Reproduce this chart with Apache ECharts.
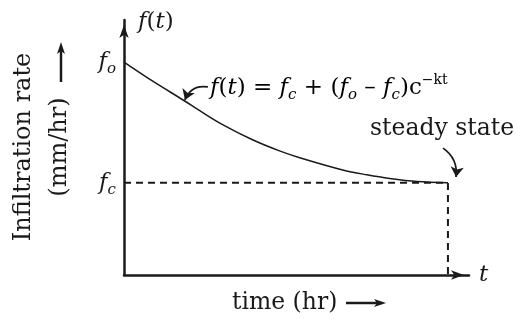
<!DOCTYPE html>
<html>
<head>
<meta charset="utf-8">
<script src="https://cdn.jsdelivr.net/npm/echarts@6/dist/echarts.min.js"></script>
<style>
  html, body { margin: 0; padding: 0; background: #fff; }
  #chart { width: 516px; height: 322px; }
</style>
</head>
<body>
<div id="chart"></div>
<script>
// Horton infiltration curve: rate falls from the initial rate f_o to the steady rate f_c
const timeHr = [0, 0.9, 1.85, 2.35, 3.0, 3.95, 4.8, 5.45, 6.75, 7.5, 8.2, 9.05, 10];
const rateMmHr = [6.93, 6.30, 5.68, 5.34, 4.92, 4.41, 4.04, 3.81, 3.42, 3.26, 3.14, 3.04, 3.0];
const initialRate = 6.93;   // f_o
const steadyRate = 3.0;     // f_c
const steadyTime = 10;      // time at which the curve meets f_c
const rateTickValues = [steadyRate, initialRate];
const rateTickSubs = ['c', 'o'];

const INK = '#1a1a1a';
const SERIF = '"DejaVu Serif", "Liberation Serif", serif';

const chart = echarts.init(document.getElementById('chart'), null, { renderer: 'canvas' });

const italicF = { fontFamily: SERIF, fontStyle: 'italic', fontSize: 23, color: INK, lineHeight: 30 };
const upright = { fontFamily: SERIF, fontSize: 23, color: INK, lineHeight: 30 };
const subStyle = { fontFamily: SERIF, fontStyle: 'italic', fontSize: 15, color: INK, lineHeight: 14, verticalAlign: 'bottom' };
const supStyle = { fontFamily: SERIF, fontSize: 14, color: INK, lineHeight: 13, verticalAlign: 'top' };

chart.setOption({
  animation: false,
  backgroundColor: '#fff',
  grid: { left: 124, right: 47, top: 20, bottom: 47, containLabel: false },
  xAxis: {
    type: 'value', min: 0, max: 10.65,
    axisLine: { show: true, symbol: ['none', 'arrow'], symbolSize: [7, 13], symbolOffset: [0, -5], lineStyle: { color: INK, width: 2.5 } },
    axisTick: { show: false }, axisLabel: { show: false }, splitLine: { show: false },
    name: 't', nameLocation: 'end', nameGap: 10,
    nameTextStyle: { fontFamily: SERIF, fontStyle: 'italic', fontSize: 23, color: INK, align: 'left', verticalAlign: 'middle' }
  },
  yAxis: {
    type: 'value', min: 0, max: 8.3,
    axisLine: { show: true, symbol: ['none', 'arrow'], symbolSize: [7, 13], symbolOffset: [0, -5], lineStyle: { color: INK, width: 2.5 } },
    axisTick: { show: false }, splitLine: { show: false },
    axisLabel: {
      show: true, customValues: rateTickValues, margin: 8,
      formatter: function (v) {
        const i = rateTickValues.indexOf(v);
        return '{f|f}{s|' + (i >= 0 ? rateTickSubs[i] : '') + '}';
      },
      rich: { f: italicF, s: subStyle }
    },
    name: '{f|f}{p|(}{f|t}{p|)}', nameLocation: 'end', nameGap: -2,
    nameTextStyle: { align: 'left', verticalAlign: 'middle', padding: [0, 0, 0, 14], rich: { f: italicF, p: upright } }
  },
  series: [
    {
      name: 'infiltration rate', type: 'line', smooth: 0.35, showSymbol: false,
      data: timeHr.map((t, i) => [t, rateMmHr[i]]),
      lineStyle: { color: INK, width: 1.5 }, z: 3
    },
    {
      name: 'steady rate', type: 'line', showSymbol: false,
      data: [[0, steadyRate], [steadyTime, steadyRate], [steadyTime, 0]],
      lineStyle: { color: INK, width: 2, type: [7, 5] }, z: 2
    },
    {
      name: 'callouts', type: 'lines', coordinateSystem: 'cartesian2d',
      symbol: ['none', 'arrow'], symbolSize: 10,
      lineStyle: { color: INK, width: 1.8, opacity: 1 },
      data: [
        { coords: [[2.59, 6.12], [1.88, 5.70]], lineStyle: { curveness: -0.4 } },
        { coords: [[9.85, 4.13], [10.25, 3.19]], lineStyle: { curveness: 0.3 } }
      ],
      z: 4
    }
  ],
  graphic: [
    {
      type: 'text', left: 210, top: 73, z: 10,
      style: {
        text: '{f|f}{p|(}{f|t}{p|) = }{f|f}{s|c}{p| + (}{f|f}{s|o}{p| – }{f|f}{s|c}{p|)c}{u|−kt}',
        rich: { f: italicF, p: upright, s: subStyle, u: supStyle }
      }
    },
    {
      type: 'text', x: 370, y: 129, z: 10,
      style: { text: 'steady state', fontFamily: SERIF, fontSize: 23.5, fill: INK, textAlign: 'left', textVerticalAlign: 'middle' }
    },
    {
      type: 'text', x: 232, y: 303, z: 10,
      style: { text: 'time (hr)', fontFamily: SERIF, fontSize: 23.5, fill: INK, textAlign: 'left', textVerticalAlign: 'middle' }
    },
    {
      type: 'text', x: 24, y: 147, rotation: Math.PI / 2, z: 10,
      style: { text: 'Infiltration rate', fontFamily: SERIF, fontSize: 24, fill: INK, textAlign: 'center', textVerticalAlign: 'middle' }
    },
    {
      type: 'text', x: 60, y: 147, rotation: Math.PI / 2, z: 10,
      style: { text: '(mm/hr)', fontFamily: SERIF, fontSize: 24, fill: INK, textAlign: 'center', textVerticalAlign: 'middle' }
    },
    // upward arrow beside the rate label
    { type: 'line', shape: { x1: 61, y1: 82, x2: 61, y2: 50 }, style: { stroke: INK, lineWidth: 2.5 } },
    { type: 'polygon', shape: { points: [[61, 42], [57, 54], [61, 51], [65, 54]] }, style: { fill: INK } },
    // rightward arrow after the time label
    { type: 'line', shape: { x1: 346, y1: 303, x2: 378, y2: 303 }, style: { stroke: INK, lineWidth: 2.5 } },
    { type: 'polygon', shape: { points: [[386, 303], [374, 299], [377, 303], [374, 307]] }, style: { fill: INK } }
  ]
});
</script>
</body>
</html>
